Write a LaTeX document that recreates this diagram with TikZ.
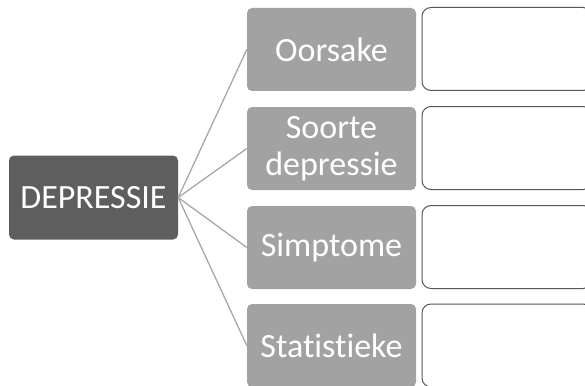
\documentclass[tikz,border=0pt]{standalone}
\usepackage{fontspec}
\setmainfont[Ligatures=NoCommon]{Carlito}
\definecolor{darkbox}{HTML}{5E5E5E}
\definecolor{lightbox}{HTML}{A2A2A2}
\definecolor{linegray}{HTML}{A8A8A8}
\definecolor{edgegray}{HTML}{555555}
\tikzset{
  mainbox/.style={fill=darkbox, rounded corners=5pt, minimum width=169pt, minimum height=84pt, text=white, font=\fontsize{34}{37}\selectfont, inner sep=0pt},
  topicbox/.style={fill=lightbox, rounded corners=5pt, minimum width=169pt, minimum height=83pt, text=white, font=\fontsize{34}{37}\selectfont, inner sep=0pt, align=center},
  emptybox/.style={draw=edgegray, line width=1pt, fill=white, rounded corners=9pt, minimum width=170pt, minimum height=83pt, inner sep=0pt},
  link/.style={draw=linegray, line width=1.3pt}
}
\begin{document}
\begin{tikzpicture}[x=1pt, y=-1pt]
\clip (0,0) rectangle (585,385);
\fill[white] (0,0) rectangle (585,385);
\node[mainbox] (dep) at (93.5,197.5) {DEPRESSIE};
\node[topicbox] (t1) at (331.5,49.5) {Oorsake};
\node[topicbox] (t2) at (331.5,148.5) {Soorte\\depressie};
\node[topicbox] (t3) at (331.5,247.5) {Simptome};
\node[topicbox] (t4) at (331.5,345.5) {Statistieke};
\node[emptybox] (e1) at (507,49) {};
\node[emptybox] (e2) at (507,148) {};
\node[emptybox] (e3) at (507,247) {};
\node[emptybox] (e4) at (507,345.5) {};
\foreach \i in {1,2,3,4} {
  \draw[link] (dep.east) -- (t\i.west);
}
\end{tikzpicture}
\end{document}
